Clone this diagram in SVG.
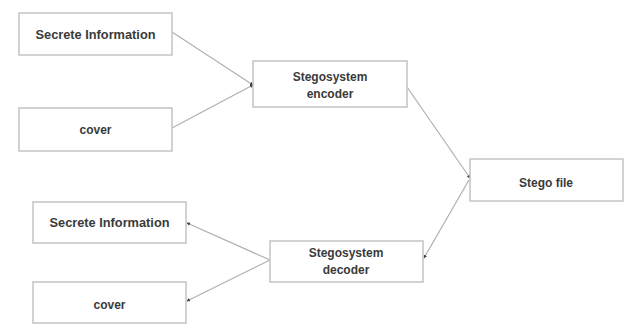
<svg xmlns="http://www.w3.org/2000/svg" width="625" height="324" viewBox="0 0 625 324">
<style>
.box{fill:#fff;stroke:#c4c4c4;stroke-width:1.5}
.t{font-family:"Liberation Sans",Arial,sans-serif;font-weight:bold;font-size:12px;fill:#3a3a3a;text-anchor:middle}
.c{stroke:#b0b0b0;stroke-width:1.2;fill:none;marker-end:url(#a)}
</style>
<defs>
<marker id="a" viewBox="0 0 6 6" refX="5" refY="3" markerWidth="3" markerHeight="3" orient="auto" markerUnits="strokeWidth">
<path d="M0,0 L6,3 L0,6 z" fill="#444"/>
</marker>
</defs>
<rect width="625" height="324" fill="#fff"/>
<g id="connectors">
<line class="c" x1="172" y1="32" x2="253" y2="85"/>
<line class="c" x1="172" y1="128" x2="253" y2="85"/>
<line class="c" x1="407" y1="87" x2="470" y2="178"/>
<line class="c" x1="469" y1="180" x2="424" y2="258"/>
<line class="c" x1="270" y1="260" x2="187" y2="223"/>
<line class="c" x1="270" y1="260" x2="187" y2="301"/>
</g>
<g id="secret1"><rect class="box" x="19" y="13" width="153" height="42"/><text class="t" x="95.5" y="39" textLength="120" lengthAdjust="spacingAndGlyphs">Secrete Information</text></g>
<g id="cover1"><rect class="box" x="19" y="108" width="153" height="43"/><text class="t" x="95.5" y="134">cover</text></g>
<g id="encoder"><rect class="box" x="253" y="61" width="154" height="46"/><text class="t" x="330" y="81">Stegosystem</text><text class="t" x="330" y="98">encoder</text></g>
<g id="stegofile"><rect class="box" x="470" y="159" width="153" height="42"/><text class="t" x="546" y="187">Stego file</text></g>
<g id="decoder"><rect class="box" x="270" y="241" width="153" height="41"/><text class="t" x="346" y="257">Stegosystem</text><text class="t" x="346" y="274">decoder</text></g>
<g id="secret2"><rect class="box" x="33" y="202" width="153" height="41"/><text class="t" x="109.5" y="227" textLength="120" lengthAdjust="spacingAndGlyphs">Secrete Information</text></g>
<g id="cover2"><rect class="box" x="33" y="282" width="153" height="41"/><text class="t" x="109.5" y="309">cover</text></g>
</svg>
